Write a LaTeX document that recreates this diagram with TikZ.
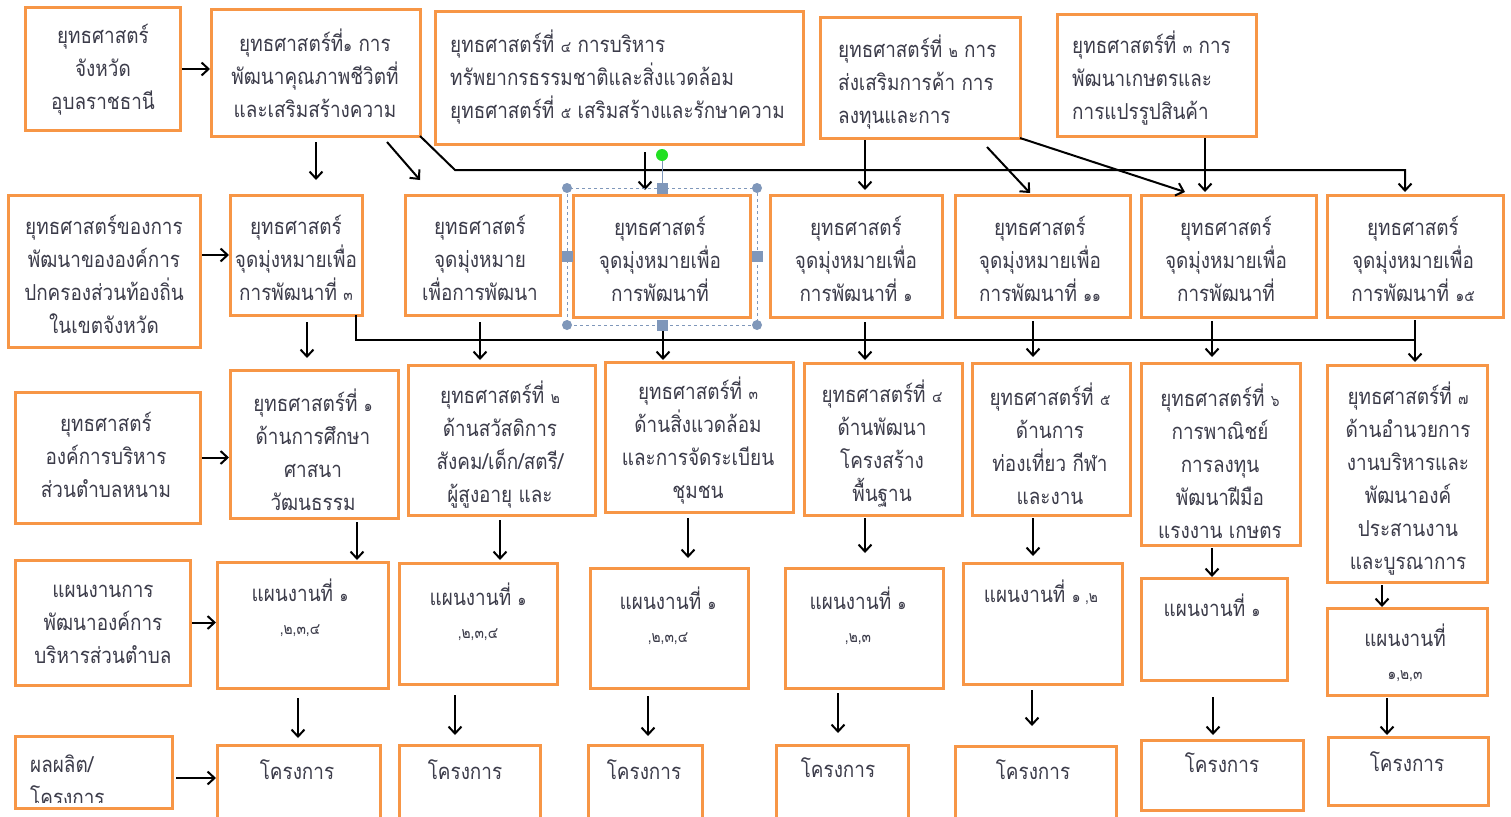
\documentclass[tikz,border=0pt]{standalone}
\usepackage{fontspec}
\newfontfamily\thai[Script=Thai,FakeStretch=0.86]{Loma}
\usetikzlibrary{arrows.meta,calc}
\definecolor{boxor}{HTML}{F79646}
\definecolor{txtc}{HTML}{3C3C4A}
\definecolor{hdl}{HTML}{7F97BA}
\definecolor{hgreen}{HTML}{22E022}
\newcommand{\dg}[1]{{\fontsize{16}{16}\selectfont #1}}
\newcommand{\bx}[5]{\node[box,minimum width={#4-#2},minimum height={#5-#3}] (#1) at ({(#2+#4)/2},{(#3+#5)/2}) {};}
\newcommand{\vlink}[5]{\draw[arr,shorten <=#4pt,shorten >=#5pt] ([xshift=#3pt]#1.south) -- ([xshift=#3pt]#1.south |- #2.north);}
\tikzset{
  box/.style={draw=boxor,line width=3pt,fill=white,inner sep=0pt,outer sep=0pt},
  txt/.style={text=txtc,font=\thai\fontsize{22}{33}\selectfont,inner sep=0pt,align=center},
  ltxt/.style={txt,align=left,anchor=west},
  arr/.style={draw=black,line width=2pt,-{Straight Barb[length=7pt,width=13pt,line width=2pt]}},
  ln/.style={draw=black,line width=2.5pt},
  hbox/.style={draw=hdl,fill=hdl,line width=0.6pt},
}
\begin{document}
\begin{tikzpicture}[x=1pt,y=-1pt]
\fill[white] (0,0) rectangle (1511,816);
\useasboundingbox (0,0) rectangle (1511,816);
\clip (0,0) rectangle (1511,816);
% ---- row 1
\bx{A1}{25}{8}{180}{130}
\bx{A2}{211}{10}{420}{136}
\bx{A3}{435}{12}{803}{144}
\bx{A4}{820}{18}{1020}{138}
\bx{A5}{1057}{15}{1256}{136}
\node[txt] (A1t) at (103,70) {ยุทธศาสตร์\\จังหวัด\\อุบลราชธานี};
\node[txt] (A2t) at (315,73) {ยุทธศาสตร์ที่\dg{๑} การ\\พัฒนาคุณภาพชีวิตที่\\และเสริมสร้างความ};
\node[ltxt] (A3t) at (450,77) {ยุทธศาสตร์ที่ \dg{๔} การบริหาร\\ทรัพยากรธรรมชาติและสิ่งแวดล้อม\\ยุทธศาสตร์ที่ \dg{๕} เสริมสร้างและรักษาความ};
\node[ltxt] (A4t) at (838,82) {ยุทธศาสตร์ที่ \dg{๒} การ\\ส่งเสริมการค้า การ\\ลงทุนและการ};
\node[ltxt] (A5t) at (1072,78) {ยุทธศาสตร์ที่ \dg{๓} การ\\พัฒนาเกษตรและ\\การแปรรูปสินค้า};
% ---- row 2
\bx{B0}{8}{195}{200}{347}
\bx{B1}{230}{195}{362}{315}
\bx{B2}{405}{195}{560}{315}
\bx{B3}{573}{195}{750}{317}
\bx{B4}{770}{195}{942}{317}
\bx{B5}{955}{195}{1130}{317}
\bx{B6}{1141}{195}{1316}{317}
\bx{B7}{1327}{195}{1503}{317}
\node[txt] (B0t) at (104,274) {ยุทธศาสตร์ของการ\\พัฒนาขององค์การ\\ปกครองส่วนท้องถิ่น\\ในเขตจังหวัด};
\node[txt] (B1t) at (296,258) {ยุทธศาสตร์\\จุดมุ่งหมายเพื่อ\\การพัฒนาที่ \dg{๓}};
\node[txt] (B2t) at (480,258) {ยุทธศาสตร์\\จุดมุ่งหมาย\\เพื่อการพัฒนา};
\node[txt] (B3t) at (660,259) {ยุทธศาสตร์\\จุดมุ่งหมายเพื่อ\\การพัฒนาที่};
\node[txt] (B4t) at (856,259) {ยุทธศาสตร์\\จุดมุ่งหมายเพื่อ\\การพัฒนาที่ \dg{๑}};
\node[txt] (B5t) at (1040,259) {ยุทธศาสตร์\\จุดมุ่งหมายเพื่อ\\การพัฒนาที่ \dg{๑๑}};
\node[txt] (B6t) at (1226,259) {ยุทธศาสตร์\\จุดมุ่งหมายเพื่อ\\การพัฒนาที่};
\node[txt] (B7t) at (1413,259) {ยุทธศาสตร์\\จุดมุ่งหมายเพื่อ\\การพัฒนาที่ \dg{๑๕}};
% ---- row 3
\bx{C0}{15}{392}{200}{523}
\bx{C1}{230}{370}{398}{518}
\bx{C2}{408}{365}{595}{515}
\bx{C3}{605}{362}{793}{512}
\bx{C4}{804}{363}{962}{515}
\bx{C5}{972}{363}{1130}{515}
\bx{C6}{1141}{363}{1300}{545}
\bx{C7}{1327}{365}{1487}{582}
\node[txt] (C0t) at (106,455) {ยุทธศาสตร์\\องค์การบริหาร\\ส่วนตำบลหนาม};
\node[txt] (C1t) at (313,450) {ยุทธศาสตร์ที่ \dg{๑}\\ด้านการศึกษา\\ศาสนา\\วัฒนธรรม};
\node[txt] (C2t) at (500,445) {ยุทธศาสตร์ที่ \dg{๒}\\ด้านสวัสดิการ\\สังคม/เด็ก/สตรี/\\ผู้สูงอายุ และ};
\node[txt] (C3t) at (698,441) {ยุทธศาสตร์ที่ \dg{๓}\\ด้านสิ่งแวดล้อม\\และการจัดระเบียน\\ชุมชน};
\node[txt] (C4t) at (882,444) {ยุทธศาสตร์ที่ \dg{๔}\\ด้านพัฒนา\\โครงสร้าง\\พื้นฐาน};
\node[txt] (C5t) at (1050,444) {ยุทธศาสตร์ที่ \dg{๕}\\ด้านการ\\ท่องเที่ยว กีฬา\\และงาน};
\node[txt] (C6t) at (1220,461) {ยุทธศาสตร์ที่ \dg{๖}\\การพาณิชย์\\การลงทุน\\พัฒนาฝีมือ\\แรงงาน เกษตร};
\node[txt] (C7t) at (1408,479) {ยุทธศาสตร์ที่ \dg{๗}\\ด้านอำนวยการ\\งานบริหารและ\\พัฒนาองค์\\ประสานงาน\\และบูรณาการ};
% ---- row 4
\bx{D0}{15}{560}{190}{685}
\bx{D1}{217}{562}{388}{688}
\bx{D2}{399}{563}{557}{684}
\bx{D3}{590}{568}{748}{688}
\bx{D4}{785}{568}{943}{688}
\bx{D5}{963}{563}{1122}{684}
\bx{D6}{1141}{578}{1287}{680}
\bx{D7}{1327}{608}{1487}{695}
\node[txt] (D0t) at (103,624) {แผนงานการ\\พัฒนาองค์การ\\บริหารส่วนตำบล};
\node[txt] (D1t) at (300,608) {แผนงานที่ \dg{๑}\\\dg{,๒,๓,๔}};
\node[txt] (D2t) at (478,612) {แผนงานที่ \dg{๑}\\\dg{,๒,๓,๔}};
\node[txt] (D3t) at (668,616) {แผนงานที่ \dg{๑}\\\dg{,๒,๓,๔}};
\node[txt] (D4t) at (858,616) {แผนงานที่ \dg{๑}\\\dg{,๒,๓}};
\node[txt] (D5t) at (1041,592) {แผนงานที่ \dg{๑ ,๒}};
\node[txt] (D6t) at (1212,605) {แผนงานที่ \dg{๑}};
\node[txt] (D7t) at (1405,653) {แผนงานที่\\\dg{๑,๒,๓}};
% ---- row 5
\bx{E0}{15}{736}{172}{808}
\bx{E1}{217}{745}{380}{830}
\bx{E2}{399}{745}{540}{830}
\bx{E3}{588}{745}{702}{830}
\bx{E4}{776}{745}{908}{830}
\bx{E5}{955}{746}{1116}{830}
\bx{E6}{1141}{740}{1303}{810}
\bx{E7}{1328}{737}{1488}{805}
\begin{scope}
\clip (E0.north west) rectangle ([yshift=6pt]E0.south east);
\node[ltxt] (E0t) at (30,780) {ผลผลิต/\\โครงการ};
\end{scope}
\node[txt] (E1t) at (297,770) {โครงการ};
\node[txt] (E2t) at (465,770) {โครงการ};
\node[txt] (E3t) at (644,770) {โครงการ};
\node[txt] (E4t) at (838,768) {โครงการ};
\node[txt] (E5t) at (1033,770) {โครงการ};
\node[txt] (E6t) at (1222,763) {โครงการ};
\node[txt] (E7t) at (1407,762) {โครงการ};
% ---- horizontal arrows
\draw[arr,shorten <=2pt,shorten >=1pt] (A1.east) -- (A1.east -| A2.west);
\draw[arr,shorten <=2pt,shorten >=1pt] (B0.east |- B1.west) -- (B1.west);
\draw[arr,shorten <=2pt,shorten >=1pt] (C0.east) -- (C0.east -| C1.west);
\draw[arr,shorten <=2pt,shorten >=1pt] (D0.east) -- (D0.east -| D1.west);
\draw[arr,shorten <=4pt,shorten >=1pt] ([yshift=-6pt]E0.east) -- ([yshift=-6pt]E0.east -| E1.west);
% ---- row 1 -> row 2
\vlink{A2}{B1}{0.5}{6}{15}
\vlink{A3}{B3}{26}{8}{5}
\vlink{A4}{B4}{-55}{2}{5}
\vlink{A5}{B6}{48.5}{2}{3}
\draw[arr] ($(A2.south)+(71.5,6)$) -- ($(B2.north)+(-62.5,-15)$);
\draw[arr] ($(A4.south)+(67,9)$) -- ($(B5.north)+(-12.5,-2)$);
\draw[arr] (A4.south east) -- ($(B6.north)+(-43.5,-3)$);
\draw[ln,arr,shorten >=3pt] (A2.south east) -- ++(35,34) -| ($(B7.north)+(-10,0)$);
% ---- row 2 -> row 3
\draw[ln] ([xshift=60pt]B1.south) |- ($(B7.south)+(0,23)$);
\vlink{B1}{C1}{11}{7}{12}
\vlink{B2}{C2}{-2.5}{7}{5}
\vlink{B3}{C3}{1.5}{8}{2}
\vlink{B4}{C4}{9}{5}{3}
\vlink{B5}{C5}{-9.5}{4}{6}
\vlink{B6}{C6}{-16.5}{4}{6}
\vlink{B7}{C7}{0}{3}{3}
% ---- row 3 -> row 4
\vlink{C1}{D1}{43}{4}{2}
\vlink{C2}{D2}{-1.5}{5}{3}
\vlink{C3}{D3}{-11}{6}{10}
\vlink{C4}{D4}{-18}{3}{15}
\vlink{C5}{D5}{-18}{3}{7}
\vlink{C6}{D6}{-8.5}{3}{1}
\vlink{C7}{D7}{-25}{3}{1}
% ---- row 4 -> row 5
\vlink{D1}{E1}{-4.5}{10}{7}
\vlink{D2}{E2}{-23}{11}{10}
\vlink{D3}{E3}{-21}{8}{9}
\vlink{D4}{E4}{-26}{5}{12}
\vlink{D5}{E5}{-10.5}{6}{20}
\vlink{D6}{E6}{-1}{17}{5}
\vlink{D7}{E7}{-20}{3}{2}
% ---- selection handles on B3
\draw[hdl,dashed,line width=0.8pt] ($(B3.north west)+(-6,-7)$) rectangle ($(B3.south east)+(7,8)$);
\draw[hdl,line width=0.8pt] ($(B3.north)+(0.5,-40)$) -- ($(B3.north)+(0.5,-12)$);
\fill[hgreen] ($(B3.north)+(0.5,-40)$) circle (6pt);
\fill[hdl] ($(B3.north west)+(-6,-7)$) circle (5pt);
\fill[hdl] ($(B3.north east)+(7,-7)$) circle (5pt);
\fill[hdl] ($(B3.south west)+(-6,8)$) circle (5pt);
\fill[hdl] ($(B3.south east)+(7,8)$) circle (5pt);
\filldraw[hbox] ($(B3.north)+(-4.5,-12)$) rectangle ($(B3.north)+(5.5,-2)$);
\filldraw[hbox] ($(B3.south)+(-4.5,3)$) rectangle ($(B3.south)+(5.5,13)$);
\filldraw[hbox] ($(B3.west)+(-11,-5)$) rectangle ($(B3.west)+(-1,5)$);
\filldraw[hbox] ($(B3.east)+(2,-5)$) rectangle ($(B3.east)+(12,5)$);
\end{tikzpicture}
\end{document}
